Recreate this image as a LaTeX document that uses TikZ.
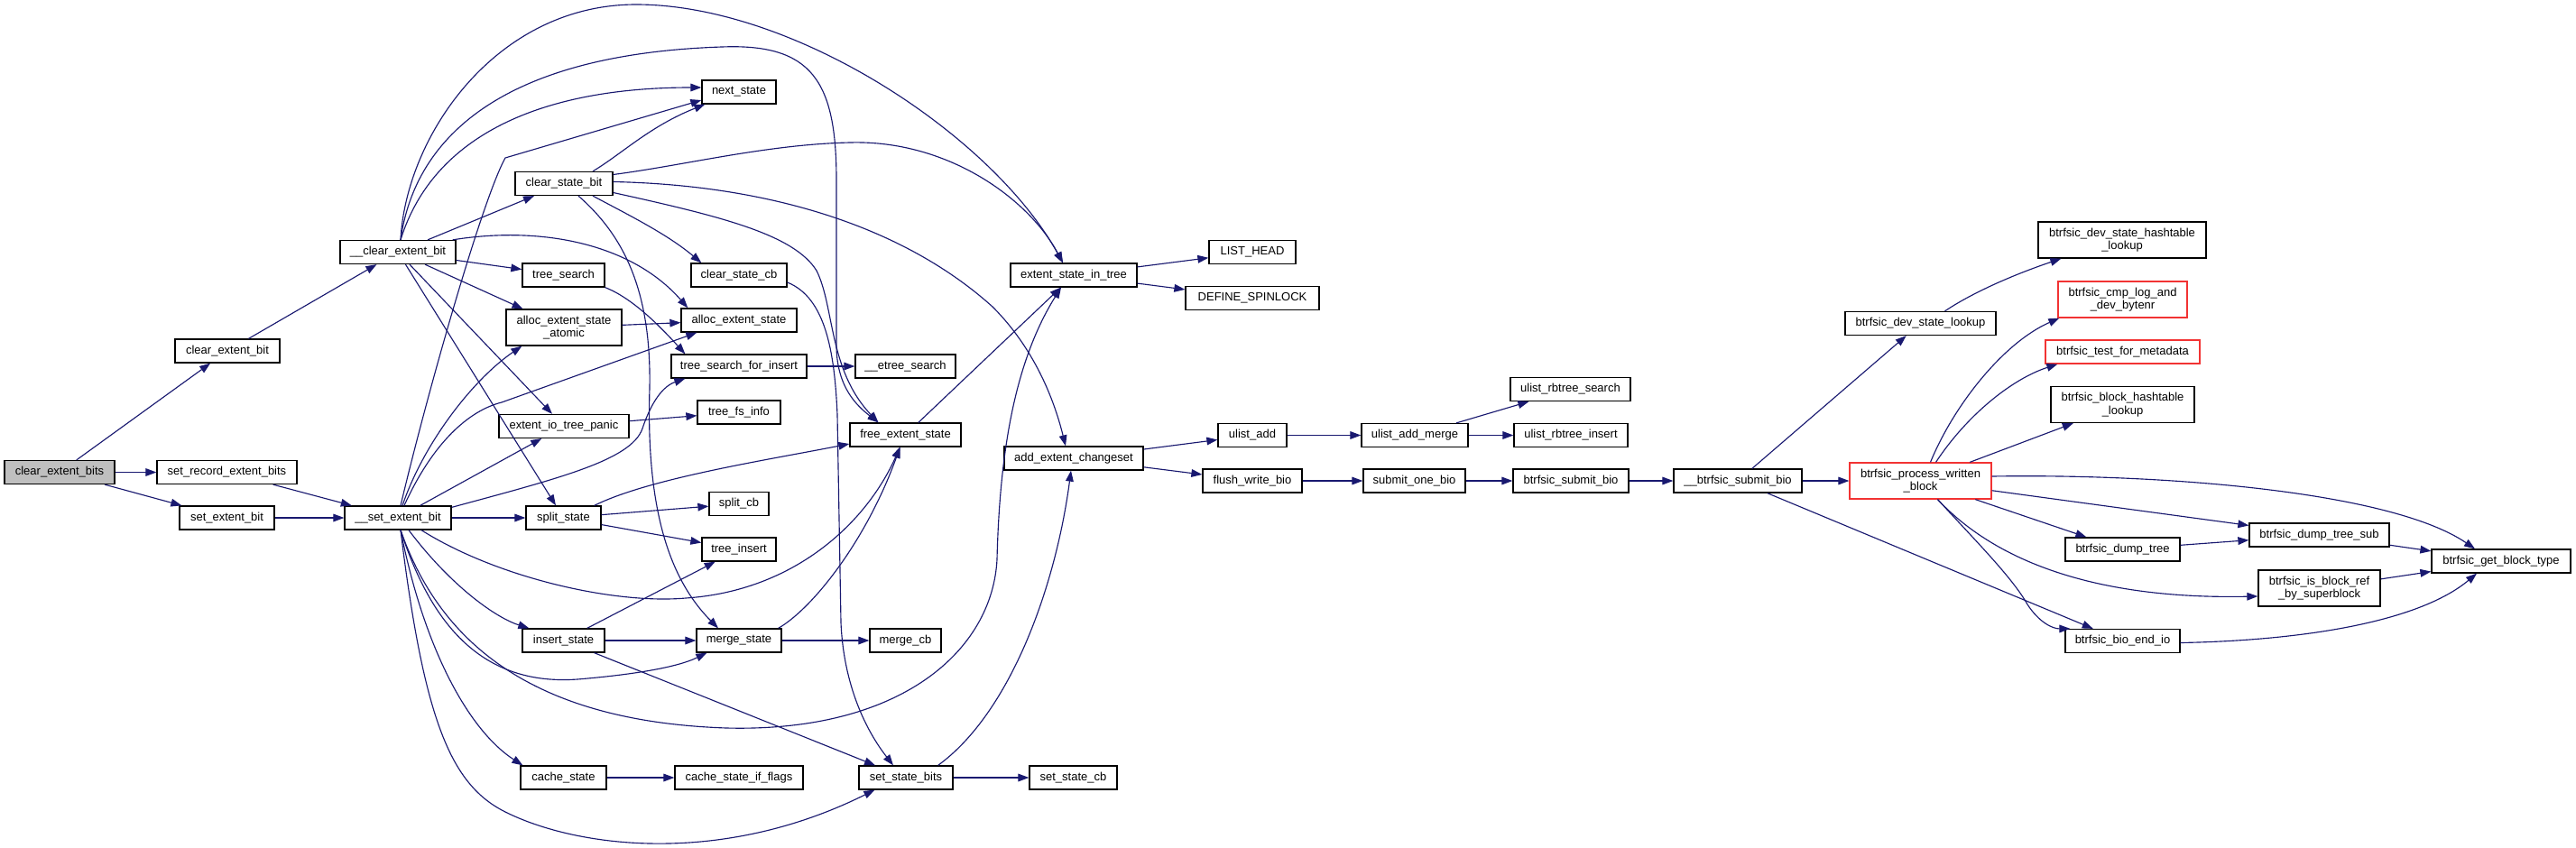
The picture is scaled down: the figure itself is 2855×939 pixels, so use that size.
\documentclass[tikz,border=0pt]{standalone}
\usepackage{fontspec}
\setmainfont{Liberation Sans}
\usetikzlibrary{arrows.meta,calc}
\definecolor{edgec}{HTML}{191970}
\definecolor{redb}{HTML}{F23333}
\definecolor{rootfill}{HTML}{BFBFBF}
\begin{document}
\begin{tikzpicture}[x=0.75pt,y=-0.75pt,
  fn/.style={draw=black, line width=0.95pt, fill=white, inner sep=0pt, minimum height=19.5pt,
             font=\fontsize{9.75}{10.75}\selectfont, align=center},
  fntwo/.style={fn, minimum height=30pt},
  trunc/.style={draw=redb},
  bw/.style={minimum width=#1*0.75pt},
  callarrow/.style={draw=edgec, line width=0.85pt, -{Triangle[length=9pt,width=6.5pt]}}]
\fill[white] (0,0) rectangle (2855,939);
\useasboundingbox (0,0) rectangle (2855,939);

% nodes
\node[fn,bw=122,fill=rootfill] (root) at (66,523.5) {clear\_extent\_bits};
\node[fn,bw=116] (ceb) at (252,389) {clear\_extent\_bit};
\node[fn,bw=155] (srb) at (251.5,523.5) {set\_record\_extent\_bits};
\node[fn,bw=105] (seb) at (251.5,574) {set\_extent\_bit};
\node[fn,bw=128] (cleb) at (441,279.5) {\_\_clear\_extent\_bit};
\node[fn,bw=118] (sseb) at (441,574) {\_\_set\_extent\_bit};
\node[fn,bw=82] (ns) at (819,102) {next\_state};
\node[fn,bw=108] (csb) at (625,203.5) {clear\_state\_bit};
\node[fn,bw=91] (ts) at (624.5,305) {tree\_search};
\node[fntwo,bw=128] (aesa) at (625,363) {alloc\_extent\_state\\\_atomic};
\node[fn,bw=144] (eitp) at (625,472.5) {extent\_io\_tree\_panic};
\node[fn,bw=83] (ss) at (624.5,574) {split\_state};
\node[fn,bw=91] (is) at (624.5,710) {insert\_state};
\node[fn,bw=95] (cs) at (624.5,862) {cache\_state};
\node[fn,bw=106] (cscb) at (819,305) {clear\_state\_cb};
\node[fn,bw=128] (aes) at (819,355) {alloc\_extent\_state};
\node[fn,bw=150] (tsfi) at (819,406) {tree\_search\_for\_insert};
\node[fn,bw=92] (tfi) at (819,457) {tree\_fs\_info};
\node[fn,bw=66] (scb) at (819,558.5) {split\_cb};
\node[fn,bw=82] (ti) at (819,609) {tree\_insert};
\node[fn,bw=94] (ms) at (819,710) {merge\_state};
\node[fn,bw=142] (csif) at (819,862) {cache\_state\_if\_flags};
\node[fn,bw=111] (ets) at (1003.5,406) {\_\_etree\_search};
\node[fn,bw=123] (fes) at (1003.5,482) {free\_extent\_state};
\node[fn,bw=79] (mcb) at (1003.5,710) {merge\_cb};
\node[fn,bw=104] (ssb) at (1004,862) {set\_state\_bits};
\node[fn,bw=140] (esit) at (1190,305) {extent\_state\_in\_tree};
\node[fn,bw=154] (aec) at (1190,508) {add\_extent\_changeset};
\node[fn,bw=97] (sscb) at (1189.5,862) {set\_state\_cb};
\node[fn,bw=96] (lh) at (1388,279.5) {LIST\_HEAD};
\node[fn,bw=148] (dsp) at (1388,330.5) {DEFINE\_SPINLOCK};
\node[fn,bw=76] (ua) at (1388,482.5) {ulist\_add};
\node[fn,bw=110] (fwb) at (1388,533) {flush\_write\_bio};
\node[fn,bw=118] (uam) at (1568,482.5) {ulist\_add\_merge};
\node[fn,bw=113] (sob) at (1567.5,533) {submit\_one\_bio};
\node[fn,bw=133] (urs) at (1740.5,431.5) {ulist\_rbtree\_search};
\node[fn,bw=126] (uri) at (1741,482.5) {ulist\_rbtree\_insert};
\node[fn,bw=128] (bsb) at (1741,533) {btrfsic\_submit\_bio};
\node[fn,bw=142] (bbsb) at (1926,533) {\_\_btrfsic\_submit\_bio};
\node[fn,bw=167] (dsl) at (2128.5,358.5) {btrfsic\_dev\_state\_lookup};
\node[fntwo,trunc,bw=157] (pwb) at (2128.5,533) {btrfsic\_process\_written\\\_block};
\node[fntwo,bw=186] (dshl) at (2352,266) {btrfsic\_dev\_state\_hashtable\\\_lookup};
\node[fntwo,trunc,bw=143] (cmp) at (2352.5,332) {btrfsic\_cmp\_log\_and\\\_dev\_bytenr};
\node[fn,trunc,bw=171] (tfm) at (2352.5,390) {btrfsic\_test\_for\_metadata};
\node[fntwo,bw=159] (bhl) at (2352.5,448.5) {btrfsic\_block\_hashtable\\\_lookup};
\node[fn,bw=127] (dt) at (2352.5,609) {btrfsic\_dump\_tree};
\node[fn,bw=127] (bei) at (2352.5,710.5) {btrfsic\_bio\_end\_io};
\node[fn,bw=155] (dts) at (2570.5,593) {btrfsic\_dump\_tree\_sub};
\node[fntwo,bw=135] (ibr) at (2570.5,652) {btrfsic\_is\_block\_ref\\\_by\_superblock};
\node[fn,bw=154] (gbt) at (2772,622) {btrfsic\_get\_block\_type};

% straight edges
\draw[callarrow] (root) -- (ceb);
\draw[callarrow] (root) -- (srb);
\draw[callarrow] (root) -- (seb);
\draw[callarrow] (ceb) -- (cleb);
\draw[callarrow] (srb) -- (sseb);
\draw[callarrow] (seb) -- (sseb);
\draw[callarrow] (cleb) -- (csb);
\draw[callarrow] (cleb) -- (ts);
\draw[callarrow] (cleb) -- (aesa);
\draw[callarrow] (cleb) -- (eitp);
\draw[callarrow] (cleb) -- (ss);
\draw[callarrow] (sseb) -- (eitp);
\draw[callarrow] (sseb) -- (ss);
\draw[callarrow] (aesa) -- (aes);
\draw[callarrow] (eitp) -- (tfi);
\draw[callarrow] (tsfi) -- (ets);
\draw[callarrow] (ss) -- (scb);
\draw[callarrow] (ss) -- (ti);
\draw[callarrow] (is) -- (ti);
\draw[callarrow] (is) -- (ms);
\draw[callarrow] (is) -- (ssb);
\draw[callarrow] (ms) -- (mcb);
\draw[callarrow] (cs) -- (csif);
\draw[callarrow] (ssb) -- (sscb);
\draw[callarrow] (fes) -- (esit);
\draw[callarrow] (esit) -- (lh);
\draw[callarrow] (esit) -- (dsp);
\draw[callarrow] (aec) -- (ua);
\draw[callarrow] (aec) -- (fwb);
\draw[callarrow] (ua) -- (uam);
\draw[callarrow] (uam) -- (urs);
\draw[callarrow] (uam) -- (uri);
\draw[callarrow] (fwb) -- (sob);
\draw[callarrow] (sob) -- (bsb);
\draw[callarrow] (bsb) -- (bbsb);
\draw[callarrow] (bbsb) -- (pwb);
\draw[callarrow] (bbsb) -- (dsl);
\draw[callarrow] (bbsb) -- (bei);
\draw[callarrow] (pwb) -- (bhl);
\draw[callarrow] (pwb) -- (dts);
\draw[callarrow] (pwb) -- (dt);
\draw[callarrow] (dt) -- (dts);
\draw[callarrow] (dts) -- (gbt);
\draw[callarrow] (ibr) -- (gbt);

% curved edges from __clear_extent_bit
\draw[callarrow] ($(cleb.north)+(3,0)$) .. controls (450,150) and (550,5) .. (705,5)
  .. controls (880,5) and (1100,150) .. ($(esit.north)+(-12,0)$);
\draw[callarrow] ($(cleb.north)+(3,0)$) .. controls (460,150) and (560,60) .. (800,52)
  .. controls (900,48) and (927,90) .. (927,200) -- (927,385)
  .. controls (928,430) and (950,450) .. ($(fes.north)+(-30,0)$);
\draw[callarrow] ($(cleb.north)+(3,0)$) .. controls (480,150) and (600,97) .. ($(ns.west)+(0,-5)$);
\draw[callarrow] ($(cleb.north east)+(-4,0)$) .. controls (600,250) and (700,270) .. ($(aes.north west)+(8,0)$);

% curved edges from __set_extent_bit
\draw[callarrow] ($(sseb.north)+(3,0)$) .. controls (475,430) and (535,220) .. (560,175) -- ($(ns.west)+(0,9)$);
\draw[callarrow] ($(sseb.north)+(5,0)$) .. controls (470,490) and (525,420) .. ($(aesa.south west)+(18,0)$);
\draw[callarrow] ($(sseb.north)+(7,0)$) .. controls (480,490) and (520,455) .. (556,446) -- ($(aes.south west)+(18,0)$);
\draw[callarrow] ($(sseb.north east)+(0,2)$) .. controls (620,530) and (700,510) .. (712,475)
  .. controls (722,445) and (735,428) .. ($(tsfi.south west)+(16,0)$);
\draw[callarrow] ($(sseb.south)+(26,0)$) .. controls (550,640) and (680,670) .. (760,663)
  .. controls (880,655) and (960,580) .. ($(fes.south)+(-6,0)$);
\draw[callarrow] ($(sseb.south)+(12,0)$) .. controls (500,650) and (550,685) .. ($(is.north west)+(8,0)$);
\draw[callarrow] ($(sseb.south)+(3,0)$) .. controls (480,700) and (540,760) .. (640,753)
  .. controls (700,748) and (750,740) .. ($(ms.south west)+(12,0)$);
\draw[callarrow] ($(sseb.south)+(3,0)$) .. controls (490,720) and (600,800) .. (805,807)
  .. controls (1000,812) and (1100,720) .. (1105,620)
  .. controls (1108,500) and (1125,400) .. ($(esit.south)+(-14,0)$);
\draw[callarrow] ($(sseb.south)+(3,0)$) .. controls (470,720) and (520,810) .. ($(cs.north west)+(3,0)$);
\draw[callarrow] ($(sseb.south)+(3,0)$) .. controls (470,800) and (500,870) .. (560,900)
  .. controls (640,940) and (800,960) .. ($(ssb.south west)+(18,0)$);

% curved edges from clear_state_bit
\draw[callarrow] ($(csb.north)+(32,0)$) .. controls (690,170) and (720,140) .. ($(ns.south west)+(4,0)$);
\draw[callarrow] ($(csb.east)+(0,-10)$) .. controls (760,183) and (850,160) .. (942,158)
  .. controls (1050,155) and (1140,220) .. ($(esit.north)+(-12,0)$);
\draw[callarrow] ($(csb.south)+(32,0)$) .. controls (700,240) and (740,260) .. ($(cscb.north west)+(12,0)$);
\draw[callarrow] ($(csb.east)+(0,-2)$) .. controls (850,205) and (1000,250) .. (1100,340)
  .. controls (1150,390) and (1170,450) .. ($(aec.north)+(-9,0)$);
\draw[callarrow] ($(csb.east)+(0,10)$) .. controls (800,240) and (880,260) .. (905,300)
  .. controls (925,340) and (918,410) .. ($(fes.north)+(-30,0)$);
\draw[callarrow] ($(csb.south)+(16,0)$) .. controls (690,260) and (722,320) .. (720,430)
  .. controls (716,560) and (740,640) .. ($(ms.north)+(-23,0)$);

% other curved edges
\draw[callarrow] ($(cscb.east)+(0,8)$) .. controls (915,330) and (925,390) .. (928,460) -- (932,690)
  .. controls (935,760) and (960,810) .. ($(ssb.north)+(-14,0)$);
\draw[callarrow] (ts.south east) .. controls (700,330) and (730,360) .. ($(tsfi.north west)+(16,0)$);
\draw[callarrow] ($(ss.north east)+(-8,0)$) .. controls (720,530) and (850,510) .. ($(fes.west)+(0,10)$);
\draw[callarrow] ($(ms.north east)+(-4,0)$) .. controls (900,675) and (960,600) .. ($(fes.south)+(-6,0)$);
\draw[callarrow] ($(ssb.north east)+(-17,0)$) .. controls (1120,790) and (1170,650) .. ($(aec.south)+(-3,0)$);
\draw[callarrow] ($(dsl.north)+(27,0)$) .. controls (2185,325) and (2230,305) .. ($(dshl.south west)+(26,0)$);
\draw[callarrow] ($(pwb.north)+(11,0)$) .. controls (2165,450) and (2220,380) .. ($(cmp.south west)+(2,0)$);
\draw[callarrow] ($(pwb.north)+(17,0)$) .. controls (2180,460) and (2230,420) .. ($(tfm.south west)+(14,0)$);
\draw[callarrow] ($(pwb.east)+(0,-5)$) .. controls (2400,525) and (2650,545) .. ($(gbt.north)+(-29,0)$);
\draw[callarrow] ($(pwb.south)+(19,0)$) .. controls (2200,610) and (2300,665) .. ($(ibr.west)+(0,9)$);
\draw[callarrow] ($(pwb.south)+(19,0)$) .. controls (2190,600) and (2230,640) .. (2247,670)
  .. controls (2260,690) and (2275,697) .. ($(bei.north west)+(6,0)$);
\draw[callarrow] ($(bei.east)+(0,2)$) .. controls (2550,710) and (2680,690) .. ($(gbt.south)+(-27,0)$);
\end{tikzpicture}
\end{document}
